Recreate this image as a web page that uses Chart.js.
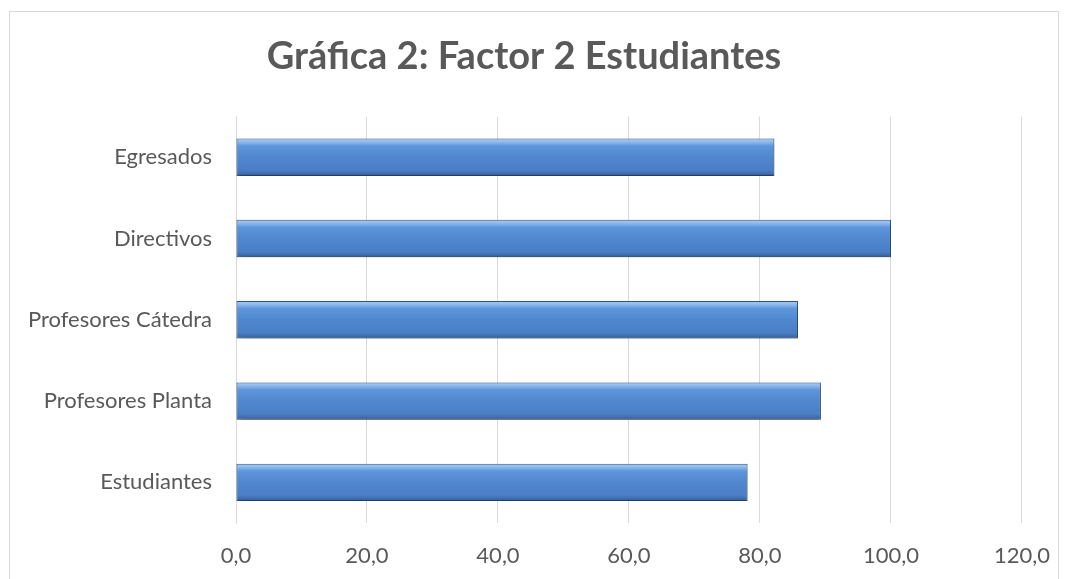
<!DOCTYPE html>
<html>
<head>
<meta charset="utf-8">
<script src="https://cdn.jsdelivr.net/npm/chart.js@4/dist/chart.umd.min.js"></script>
<style>
  html, body { margin: 0; padding: 0; background: #fff; }
  #wrap { position: relative; width: 1070px; height: 579px; overflow: hidden; }
  #frame { position: absolute; left: 9px; top: 11px; width: 1050px; height: 620px; border: 1px solid #d9d9d9; box-sizing: border-box; }
  canvas { position: absolute; left: 0; top: 0; }
</style>
</head>
<body>
<div id="wrap">
  <div id="frame"></div>
  <canvas id="c" width="1070" height="579"></canvas>
</div>
<script>
const categories = ["Egresados", "Directivos", "Profesores Cátedra", "Profesores Planta", "Estudiantes"];
const values = [82.2, 100.0, 85.8, 89.3, 78.1];
const titleText = "Gráfica 2: Factor 2 Estudiantes";
const xMin = 0, xMax = 120, xStep = 20;

function barGradient(context) {
  const chart = context.chart;
  const ca = chart.chartArea;
  if (!ca || !chart.scales.y) return '#4F81BD';
  const y = chart.scales.y.getPixelForValue(context.dataIndex);
  const el = chart.getDatasetMeta(0).data[context.dataIndex];
  const h = (el && el.height) ? el.height : 37;
  const g = chart.ctx.createLinearGradient(0, y - h / 2, 0, y + h / 2);
  g.addColorStop(0, '#A8CCF4');
  g.addColorStop(0.08, '#8FBBEE');
  g.addColorStop(0.2, '#5E95DA');
  g.addColorStop(0.5, '#5088D0');
  g.addColorStop(0.85, '#4A7EC5');
  g.addColorStop(0.95, '#3E6BAA');
  g.addColorStop(1, '#2E5288');
  return g;
}

const shadowPlugin = {
  id: 'shadow',
  beforeDatasetDraw(chart) {
    const ctx = chart.ctx;
    ctx.save();
    ctx.shadowColor = 'rgba(0,0,0,0.35)';
    ctx.shadowBlur = 5;
    ctx.shadowOffsetX = 1;
    ctx.shadowOffsetY = 3;
  },
  afterDatasetDraw(chart) {
    chart.ctx.restore();
  }
};

new Chart(document.getElementById('c'), {
  type: 'bar',
  data: {
    labels: categories,
    datasets: [{
      data: values,
      backgroundColor: barGradient,
      borderColor: '#2F5488',
      borderWidth: 1,
      borderSkipped: false,
      barPercentage: 0.46,
      categoryPercentage: 1.0
    }]
  },
  options: {
    indexAxis: 'y',
    responsive: false,
    animation: false,
    events: [],
    layout: { padding: { left: 22, right: 44, top: 0, bottom: 13 } },
    plugins: {
      legend: { display: false },
      tooltip: { enabled: false },
      title: {
        display: true,
        text: titleText,
        color: '#595959',
        font: { family: 'Lato', size: 38, weight: 'bold', lineHeight: 1.2 },
        padding: { top: 34, bottom: 37 }
      }
    },
    scales: {
      x: {
        min: xMin, max: xMax,
        ticks: {
          stepSize: xStep,
          color: '#595959',
          font: { family: 'Lato', size: 22 },
          padding: 20,
          maxRotation: 0,
          callback: v => v.toFixed(1).replace('.', ',')
        },
        grid: { color: '#d9d9d9', lineWidth: 1, drawTicks: false },
        border: { display: false },
        afterFit(scale) { scale.height = 43; }
      },
      y: {
        ticks: {
          color: '#595959',
          font: { family: 'Lato', size: 22 },
          padding: 24
        },
        grid: { display: false, drawTicks: false },
        border: { display: true, color: '#d9d9d9' },
        afterFit(scale) { scale.width = 214; }
      }
    }
  },
  plugins: [shadowPlugin]
});
</script>
</body>
</html>
